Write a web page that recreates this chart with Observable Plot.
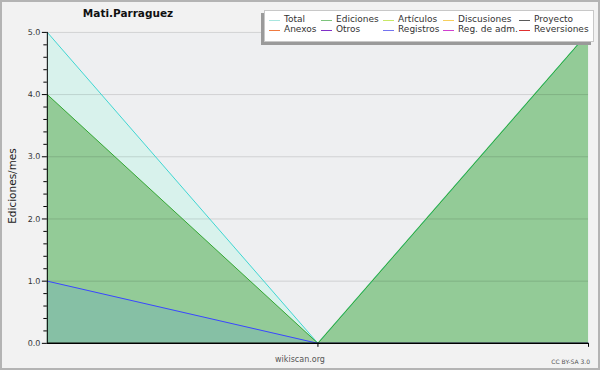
<!DOCTYPE html>
<html>
<head>
<meta charset="utf-8">
<script src="https://cdn.jsdelivr.net/npm/d3@7"></script>
<script src="https://cdn.jsdelivr.net/npm/@observablehq/plot@0.6"></script>
<style>
  body { margin: 0; background: #f2f2f2; font-family: "DejaVu Sans", sans-serif; }
  #wrap { position: relative; width: 600px; height: 370px; box-sizing: border-box; border: 2px solid #b4b4b4; background: #f2f2f2; overflow: hidden; }
  #chart { position: absolute; left: -2px; top: -2px; }
  .abs { position: absolute; white-space: nowrap; line-height: 1; }
  #legend { position: absolute; left: 262px; top: 8px; width: 328px; height: 30px; background: #fff; border: 1px solid #c8c8c8; box-shadow: -3px 3px 0 #9a9a9a; }
  .lg-line { position: absolute; height: 1px; width: 11px; }
  .lg-text { position: absolute; font-size: 9px; color: #333; line-height: 1; white-space: nowrap; }
</style>
</head>
<body>
<div id="wrap">
  <div id="chart"></div>
</div>
<script>
// ---- data ----
const xIndex = [0, 1, 2];
const total = [5, 0, 5];
const ediciones = [4, 0, 5];
const registros = [1, 0, 0];
const yTicks = [0, 1, 2, 3, 4, 5];
const titleText = "Mati.Parraguez";
const yLabel = "Ediciones/mes";
const legendLabels = ["Total", "Ediciones", "Artículos", "Discusiones", "Proyecto",
                      "Anexos", "Otros", "Registros", "Reg. de adm.", "Reversiones"];
const legendColors = ["#a8e6df", "#7cc47c", "#c8e866", "#f6cf5e", "#5a5a5a",
                      "#f07a40", "#8030c8", "#7474f0", "#d040d0", "#e03030"];

const rows = xIndex.map((x, i) => ({x, total: total[i], ediciones: ediciones[i], registros: registros[i]}));
const minorTicks = d3.range(0, 5.0001, 0.2).map(v => +v.toFixed(1)).filter(v => !yTicks.includes(v));

const chart = Plot.plot({
  width: 600, height: 370,
  marginLeft: 47, marginRight: 10, marginTop: 32, marginBottom: 26,
  x: {domain: [0, 2], axis: null, label: null},
  y: {domain: [0, 5], axis: null, label: null},
  style: {background: "transparent", fontFamily: "DejaVu Sans, sans-serif", overflow: "visible"},
  marks: [
    Plot.frame({fill: "#eeeff1", stroke: null}),
    Plot.areaY(rows, {x: "x", y: "total", fill: "#d8f2ec"}),
    Plot.areaY(rows, {x: "x", y: "ediciones", fill: "#93cb97"}),
    Plot.areaY(rows, {x: "x", y: "registros", fill: "#86c0a5"}),
    Plot.ruleY(yTicks.filter(d => d > 0), {stroke: "#000", strokeOpacity: 0.13}),
    Plot.lineY(rows, {x: "x", y: "total", stroke: "#3ed6d2", strokeWidth: 1}),
    Plot.lineY(rows, {x: "x", y: "ediciones", stroke: "#34a834", strokeWidth: 1}),
    Plot.lineY(rows, {x: "x", y: "registros", stroke: "#3a46ff", strokeWidth: 1}),
    Plot.axisY({ticks: yTicks, tickFormat: d => d.toFixed(1), tickSize: 5, tickPadding: 2, fontSize: 8, color: "#333", stroke: "#000", label: null}),
    Plot.axisY({ticks: minorTicks, tickFormat: () => "", tickSize: 3.5, stroke: "#000", label: null}),
    Plot.axisX({ticks: [1, 2], tickFormat: () => "", tickSize: 4, stroke: "#000", label: null}),
    Plot.ruleX([0], {stroke: "#000"}),
    Plot.ruleY([0], {stroke: "#000", strokeWidth: 1.5})
  ]
});
document.getElementById("chart").appendChild(chart);

const wrap = document.getElementById("wrap");
function addText(txt, css) {
  const d = document.createElement("div");
  d.className = "abs";
  d.textContent = txt;
  Object.assign(d.style, css);
  wrap.appendChild(d);
  return d;
}
// Title (positions relative to wrap, which has 2px border)
addText(titleText, {left: "76px", width: "100px", textAlign: "center", top: "6px", fontSize: "10.5px", fontWeight: "bold", color: "#111"});
// y label
addText(yLabel, {left: "5px", top: "184px", fontSize: "10.5px", color: "#222", transformOrigin: "0 0", transform: "rotate(-90deg) translate(-50%, 0)"});
// footer
addText("wikiscan.org", {left: "248px", width: "100px", textAlign: "center", top: "354px", fontSize: "8px", color: "#555"});
addText("CC BY-SA 3.0", {right: "8px", top: "357px", fontSize: "6px", color: "#555"});

// legend
const legend = document.createElement("div");
legend.id = "legend";
wrap.appendChild(legend);
const colX = [4, 56, 118, 178, 254];
const rowY = [10, 20];
legendLabels.forEach((lab, i) => {
  const c = i % 5, r = Math.floor(i / 5);
  const ln = document.createElement("div");
  ln.className = "lg-line";
  ln.style.left = colX[c] + "px";
  ln.style.top = (rowY[r] - 1) + "px";
  ln.style.background = legendColors[i];
  legend.appendChild(ln);
  const t = document.createElement("div");
  t.className = "lg-text";
  t.textContent = lab;
  t.style.left = (colX[c] + 15) + "px";
  t.style.top = (rowY[r] - 6) + "px";
  legend.appendChild(t);
});
</script>
</body>
</html>
